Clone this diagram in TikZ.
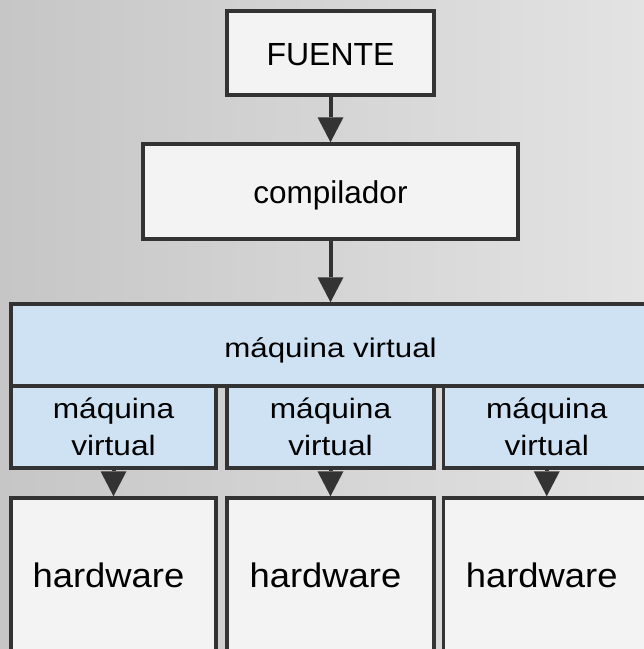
\documentclass[tikz,border=0pt]{standalone}
\usepackage{fontspec}
\setmainfont{Liberation Sans}
\newfontfamily\bigmvfont[FakeStretch=1.16]{Liberation Sans}
\newfontfamily\smallmvfont[FakeStretch=1.13]{Liberation Sans}
\newfontfamily\hwfont[FakeStretch=1.07]{Liberation Sans}
\usetikzlibrary{arrows.meta}
\definecolor{edgecol}{HTML}{333333}
\definecolor{boxfill}{HTML}{F3F3F3}
\definecolor{mvfill}{HTML}{CFE2F3}
\definecolor{bgleft}{HTML}{C6C6C6}
\definecolor{bgright}{HTML}{E3E3E3}
\begin{document}
\begin{tikzpicture}[x=1pt,y=-1pt,
  box/.style={rectangle, draw=edgecol, line width=3.5pt, fill=boxfill,
    inner sep=0pt, outer sep=1.75pt, text=black, text height=24pt, text depth=0pt},
  mvbox/.style={box, fill=mvfill},
  mvtwo/.style={mvbox, align=center, text height=56pt, text depth=0pt},
  flow/.style={draw=edgecol, line width=4pt,
    -{Triangle[length=25pt,width=26pt,line width=0pt]}}]
\useasboundingbox (0,0) rectangle (644,649);
\shade[left color=bgleft, right color=bgright] (0,0) rectangle (644,649);
\begin{scope}
\clip (0,0) rectangle (644,649);
\node[box, minimum width=207pt, minimum height=84pt,
  font=\fontsize{32}{38}\selectfont] (fuente) at (330.5,53) {FUENTE};
\node[box, minimum width=375pt, minimum height=95pt,
  font=\fontsize{31.5}{38}\selectfont] (comp) at (330.5,191.5) {compilador};
\node[mvbox, minimum width=639pt, minimum height=82pt,
  font=\bigmvfont\fontsize{27}{32}\selectfont] (bigmv) at (330.5,345) {máquina virtual};
\node[mvtwo, minimum width=205pt, minimum height=82pt,
  font=\smallmvfont\fontsize{28}{37}\selectfont] (mva) at (113.5,427) {máquina\\virtual};
\node[mvtwo, minimum width=207pt, minimum height=82pt,
  font=\smallmvfont\fontsize{28}{37}\selectfont] (mvb) at (330.5,427) {máquina\\virtual};
\node[mvtwo, minimum width=206.5pt, minimum height=82pt,
  font=\smallmvfont\fontsize{28}{37}\selectfont] (mvc) at (546.75,427) {máquina\\virtual};
\node[box, minimum width=205pt, minimum height=155pt,
  font=\hwfont\fontsize{34}{40}\selectfont] (hwa) at (113.5,575.5) {\hspace*{-10pt}hardware};
\node[box, minimum width=207pt, minimum height=155pt,
  font=\hwfont\fontsize{34}{40}\selectfont] (hwb) at (330.5,575.5) {\hspace*{-10pt}hardware};
\node[box, minimum width=206.5pt, minimum height=155pt,
  font=\hwfont\fontsize{34}{40}\selectfont] (hwc) at (546.75,575.5) {\hspace*{-10pt}hardware};
\draw[flow] (fuente.south) -- (comp.north);
\draw[flow] (comp.south) -- (bigmv.north);
\draw[flow] (mva.south) -- (hwa.north);
\draw[flow] (mvb.south) -- (hwb.north);
\draw[flow] (mvc.south) -- (hwc.north);
\end{scope}
\end{tikzpicture}
\end{document}
